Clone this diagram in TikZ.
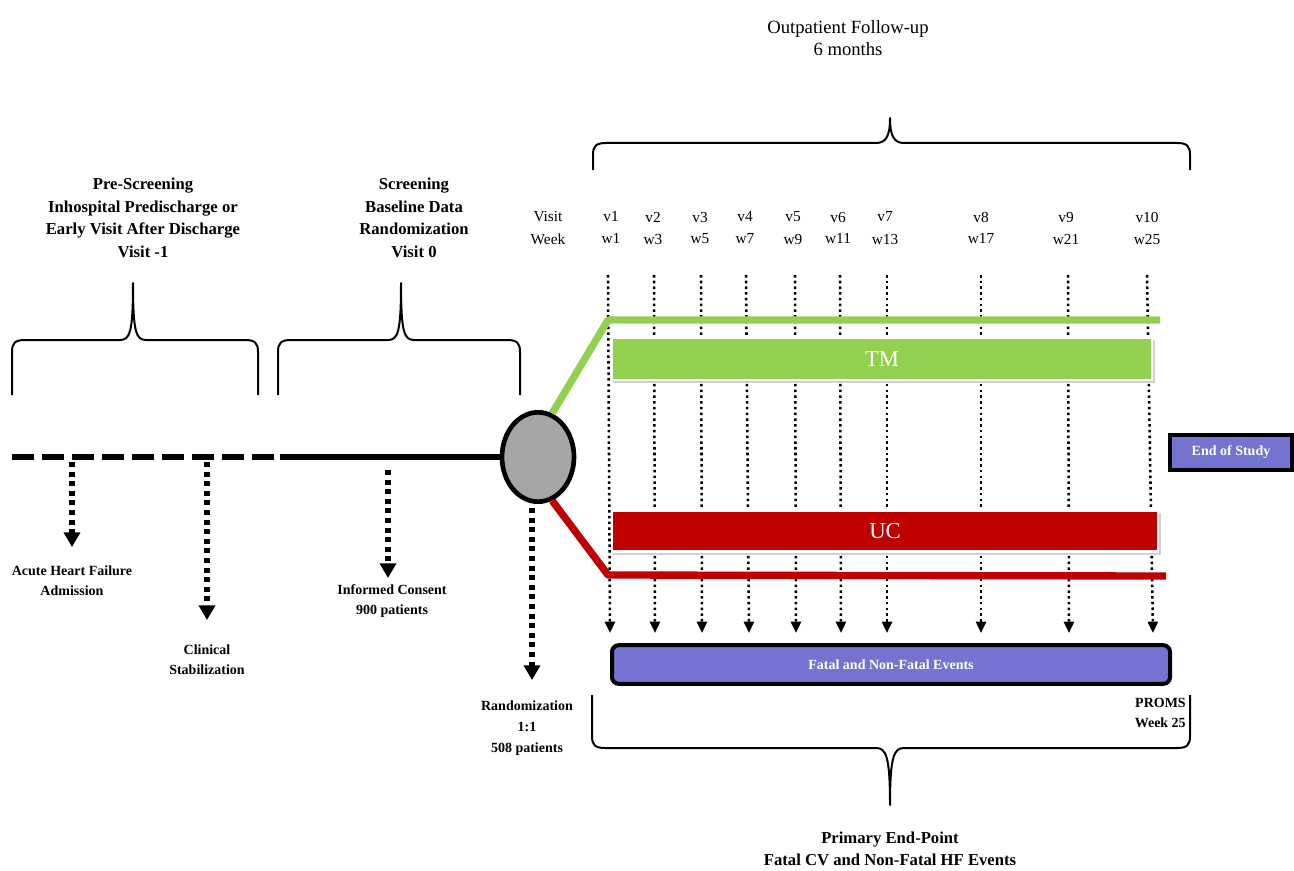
\documentclass[tikz,border=0pt]{standalone}
\usepackage{fontspec}
\setmainfont{Liberation Serif}
\usetikzlibrary{arrows.meta,shapes.geometric}
\definecolor{tmgreen}{HTML}{92D050}
\definecolor{ucred}{HTML}{C00000}
\definecolor{evpurple}{HTML}{7474D0}
\definecolor{randgray}{HTML}{A6A6A6}
\begin{document}
\begin{tikzpicture}[x=0.75pt,y=-0.75pt,
  blk/.style={font=\bfseries\fontsize{12.5}{17}\selectfont, align=center, inner sep=0pt},
  sml/.style={font=\bfseries\fontsize{10.5}{15}\selectfont, align=center, inner sep=0pt},
  vl/.style={font=\fontsize{11.5}{13}\selectfont, inner sep=0pt},
  brace/.style={line width=1.5pt, line join=round},
  vdot/.style={line width=1.9pt, dash pattern=on 1.9pt off 2.4pt, -{Triangle[width=7.5pt,length=8.5pt]}},
  bigdot/.style={line width=3.8pt, dash pattern=on 3.8pt off 3.4pt, -{Triangle[width=12pt,length=11pt]}},
  armbox/.style={draw=white, line width=2pt, inner sep=0pt, text=white, font=\fontsize{17}{20}\selectfont},
  purplebox/.style={draw=black, fill=evpurple, text=white, inner sep=0pt, font=\bfseries\fontsize{10.5}{12}\selectfont}
]
\useasboundingbox (0,0) rectangle (1294,870);

% ---------- titles ----------
\node[font=\fontsize{14}{17}\selectfont, align=center, inner sep=0pt] (title) at (848,38) {Outpatient Follow-up\\6 months};
\node[blk] (pre) at (143,218) {Pre-Screening\\Inhospital Predischarge or\\Early Visit After Discharge\\Visit -1};
\node[blk] (scr) at (414,218) {Screening\\Baseline Data\\Randomization\\Visit 0};

% ---------- braces ----------
\draw[brace] (593,170) -- (593,155) .. controls (593,146) and (596,143) .. (606,143)
  -- (876,143) .. controls (886,143) and (890,136) .. (890,118)
  .. controls (890,136) and (894,143) .. (904,143) -- (1177,143)
  .. controls (1187,143) and (1190,146) .. (1190,155) -- (1190,170);
\draw[brace] (12,395) -- (12,352) .. controls (12,343) and (15,340) .. (25,340)
  -- (120,340) .. controls (130,340) and (133,332) .. (133,283)
  .. controls (133,332) and (136,340) .. (146,340) -- (245,340)
  .. controls (255,340) and (258,343) .. (258,352) -- (258,395);
\draw[brace] (278,395) -- (278,352) .. controls (278,343) and (281,340) .. (291,340)
  -- (388,340) .. controls (398,340) and (401,332) .. (401,283)
  .. controls (401,332) and (404,340) .. (414,340) -- (507,340)
  .. controls (517,340) and (520,343) .. (520,352) -- (520,395);
\draw[brace] (592,695) -- (592,736) .. controls (592,745) and (595,748) .. (605,748)
  -- (876,748) .. controls (886,748) and (890,756) .. (890,805)
  .. controls (890,756) and (894,748) .. (904,748) -- (1177,748)
  .. controls (1187,748) and (1190,745) .. (1190,736) -- (1190,695);

% ---------- visit / week labels ----------
\node[vl] (visit) at (548,217) {Visit};
\node[vl] (week) at (548,239) {Week};
\foreach \n/\x in {1/611,2/653,3/700,4/745,5/793,6/838,7/885,8/981,9/1066,10/1147}{
  \node[vl] (v\n) at (\x,217) {v\n};
}
\foreach \n/\x/\w in {1/611/1,2/653/3,3/700/5,4/745/7,5/793/9,6/838/11,7/885/13,8/981/17,9/1066/21,10/1147/25}{
  \node[vl] (w\n) at (\x,239) {w\w};
}

% ---------- dotted visit lines ----------
\foreach \n/\xt/\xb in {1/608/610,2/654/655,3/701/702,4/746/749,5/795/796,6/840/841,7/887/887,8/981/981,9/1068/1069,10/1147/1153}{
  \coordinate (t\n) at (\xt,275);
  \coordinate (b\n) at (\xb,633);
  \draw[vdot] (t\n) -- (b\n);
}

% ---------- randomization circle and arms ----------
\node[draw=black, fill=randgray, ellipse, line width=3.5pt, minimum width=54pt, minimum height=67pt, inner sep=0pt] (R) at (538,457) {};
\coordinate (gk) at (608,320);
\coordinate (ge) at (1160,320);
\coordinate (rk) at (608,575);
\coordinate (re) at (1166,576);
\draw[tmgreen, line width=5.5pt, line join=round] (R.72) -- (gk) -- (ge);
\draw[ucred, line width=5.5pt, line join=round] (R.-72) -- (rk) -- (re);

% arm boxes
\fill[black!18] (613,340) rectangle (1155,383);
\node[armbox, fill=tmgreen, minimum width=405pt, minimum height=31.5pt] (TM) at (882,359) {TM};
\fill[black!18] (613,513) rectangle (1161,555);
\node[armbox, fill=ucred, minimum width=409.5pt, minimum height=31pt] (UC) at (885,531) {UC};

% ---------- timeline ----------
\coordinate (d0) at (12,457);
\coordinate (d1) at (280,457);
\draw[line width=5pt, dash pattern=on 16.5pt off 6pt] (d0) -- (d1);
\draw[line width=4.5pt] (d1) -- (R.west);

% ---------- event arrows ----------
\coordinate (a1s) at (72,462);   \coordinate (a1e) at (72,547);
\coordinate (a2s) at (207,462);  \coordinate (a2e) at (207,620);
\coordinate (a3s) at (388,470);  \coordinate (a3e) at (388,578);
\draw[bigdot] (a1s) -- (a1e);
\draw[bigdot] (a2s) -- (a2e);
\draw[bigdot] (a3s) -- (a3e);
\coordinate (a4e) at (532,680);
\draw[bigdot] (R.south) ++(-6,4) coordinate (a4s) (a4s) -- (a4e);

\node[sml] (ahf) at (72,581) {Acute Heart Failure\\Admission};
\node[sml] (cs) at (207,660) {Clinical\\Stabilization};
\node[sml] (ic) at (392,601) {Informed Consent\\900 patients};
\node[sml, font=\bfseries\fontsize{10.5}{16}\selectfont] (rnd) at (527,728) {Randomization\\1:1\\508 patients};

% ---------- end of study / events ----------
\node[purplebox, line width=3pt, minimum width=91.5pt, minimum height=26pt] (eos) at (1231,452.5) {End of Study};
\node[purplebox, line width=3pt, rounded corners=5pt, minimum width=418.5pt, minimum height=29pt] (fe) at (891,664.5) {Fatal and Non-Fatal Events};

\node[sml, align=right, anchor=east] (proms) at (1186,713) {PROMS\\Week 25};
\node[blk, font=\bfseries\fontsize{12.5}{16.5}\selectfont] (pep) at (890,849) {Primary End-Point\\Fatal CV and Non-Fatal HF Events};
\end{tikzpicture}
\end{document}
